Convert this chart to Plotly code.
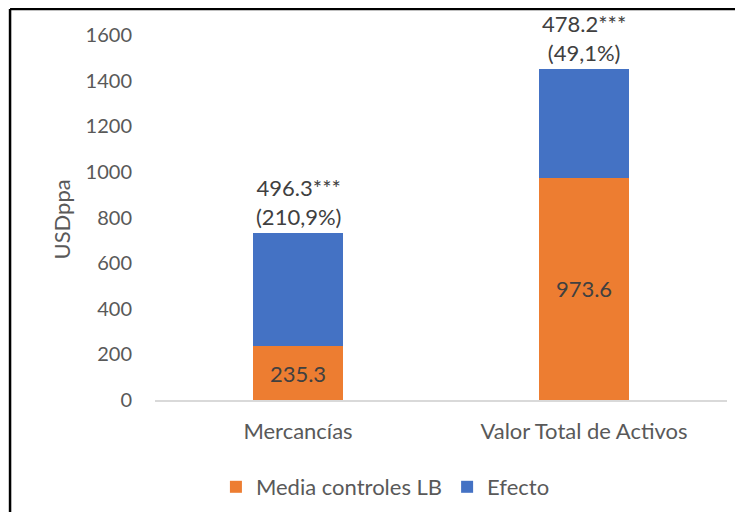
import plotly.graph_objects as go

categories = ["Mercancías", "Valor Total de Activos"]
media_controles = [235.3, 973.6]
efecto = [496.3, 478.2]
efecto_labels = ["496.3***<br>(210,9%)", "478.2***<br>(49,1%)"]
y_ticks = [0, 200, 400, 600, 800, 1000, 1200, 1400, 1600]

# page offset from the default html body margin
OFF = 8
W, H = 743 - OFF, 520 - 2 * OFF
# plot area in page pixels
PL, PR, PT, PB = 154.5, 726.7, 35, 400
L = PL - OFF
T = PT - OFF
R = W - (PR - OFF)
B = H - (PB - OFF)
pw, ph = PR - PL, PB - PT

def px_x(px):  # page pixel -> paper
    return (px - PL) / pw

def px_y(py):
    return (PB - py) / ph

FONT = "Lato, 'Open Sans', sans-serif"
TXT = "#595959"
DARK = "#404040"

fig = go.Figure()
fig.add_trace(go.Bar(
    x=categories, y=media_controles, name="Media controles LB",
    marker=dict(color="#ED7D31", line=dict(width=0)),
    text=[f"{v:.1f}" for v in media_controles], textposition="inside",
    insidetextanchor="middle",
    textfont=dict(family=FONT, size=22, color=DARK),
))
fig.add_trace(go.Bar(
    x=categories, y=efecto, name="Efecto",
    marker=dict(color="#4472C4", line=dict(width=0)),
))

for c, m, e, lab in zip(categories, media_controles, efecto, efecto_labels):
    fig.add_annotation(x=c, y=m + e, text=lab, showarrow=False,
                       yanchor="bottom", yshift=1,
                       font=dict(family=FONT, size=22, color=DARK))

fig.add_annotation(xref="paper", yref="paper", x=px_x(60), y=px_y(220),
                   xanchor="center", yanchor="middle",
                   text="USDppa", textangle=-90, showarrow=False,
                   font=dict(family=FONT, size=22, color=TXT))

# outer border (partially cropped)
fig.add_shape(type="line", xref="paper", yref="paper",
              x0=px_x(9.5), x1=px_x(9.5), y0=px_y(9), y1=px_y(560),
              line=dict(color="black", width=2.5))
fig.add_shape(type="line", xref="paper", yref="paper",
              x0=px_x(9.5), x1=px_x(780), y0=px_y(9), y1=px_y(9),
              line=dict(color="black", width=2.5))

fig.update_layout(
    width=W, height=H,
    margin=dict(l=L, r=R, t=T, b=B, autoexpand=False),
    barmode="stack", bargap=0.685,
    plot_bgcolor="white", paper_bgcolor="white",
    font=dict(family=FONT, size=20, color=TXT),
    showlegend=True,
    legend=dict(orientation="h", x=px_x(385), xanchor="center",
                y=px_y(487), yanchor="middle",
                font=dict(family=FONT, size=22, color=TXT),
                itemwidth=30, traceorder="normal"),
)
fig.update_xaxes(showline=True, linecolor="#D9D9D9", linewidth=2,
                 ticks="outside", ticklen=11, tickcolor="rgba(0,0,0,0)",
                 tickfont=dict(family=FONT, size=22, color=TXT),
                 showgrid=False, fixedrange=True)
fig.update_yaxes(range=[0, 1600], tickvals=y_ticks, showgrid=False,
                 zeroline=False, showline=False,
                 ticks="outside", ticklen=18, tickcolor="rgba(0,0,0,0)",
                 tickfont=dict(family=FONT, size=20, color=TXT))

fig.write_html("out.html")
